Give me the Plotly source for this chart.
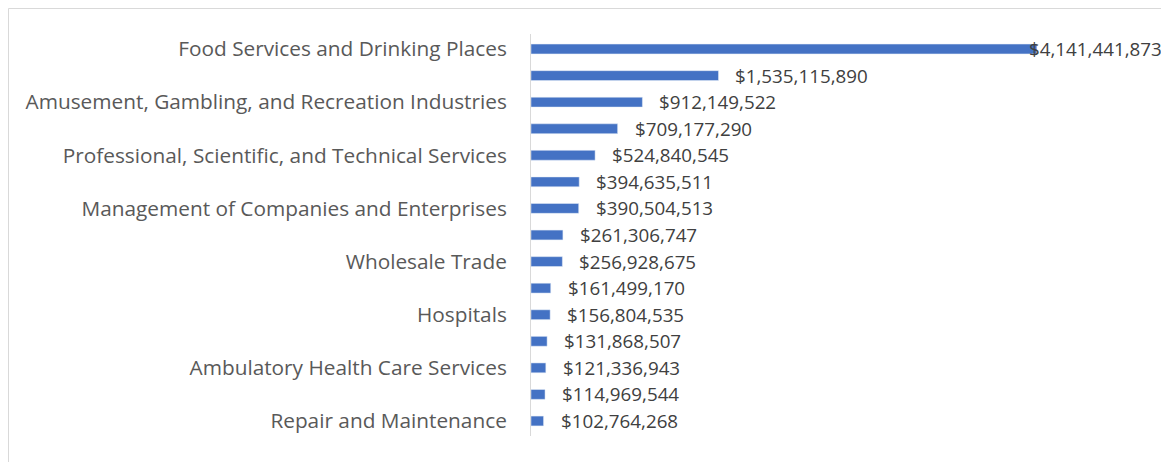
import plotly.graph_objects as go

# Industries, largest first (only every other one gets a visible axis label)
industries = [
    "Food Services and Drinking Places",
    "Accommodation",
    "Amusement, Gambling, and Recreation Industries",
    "Administrative and Support Services",
    "Professional, Scientific, and Technical Services",
    "Real Estate",
    "Management of Companies and Enterprises",
    "Specialty Trade Contractors",
    "Wholesale Trade",
    "Personal and Laundry Services",
    "Hospitals",
    "Food and Beverage Stores",
    "Ambulatory Health Care Services",
    "General Merchandise Stores",
    "Repair and Maintenance",
]
spending = [
    4141441873, 1535115890, 912149522, 709177290, 524840545,
    394635511, 390504513, 261306747, 256928675, 161499170,
    156804535, 131868507, 121336943, 114969544, 102764268,
]
shown_labels = industries[::2]

FONT = "Open Sans"

fig = go.Figure()

fig.add_trace(go.Bar(
    x=spending,
    y=industries,
    orientation="h",
    marker_color="#4472C4",
    hovertemplate="%{y}: $%{x:,.0f}<extra></extra>",
))

# value labels next to the bar ends (the biggest one gets pulled back like Excel does)
for i, (cat, val) in enumerate(zip(industries, spending)):
    fig.add_annotation(
        x=val,
        y=cat,
        xref="x",
        yref="y",
        text="${:,.0f}".format(val),
        showarrow=False,
        xanchor="left",
        xshift=-10 if i == 0 else 15,
        font={"family": FONT, "size": 18.8, "color": "#404040"},
    )

fig.update_layout(
    width=1161,
    height=454,
    margin={"l": 523, "r": 9, "t": 26, "b": 26},
    paper_bgcolor="white",
    plot_bgcolor="white",
    showlegend=False,
    bargap=0.63,
    font={"family": FONT, "color": "#595959"},
    xaxis={
        "range": [0, 5.15e9],
        "visible": False,
        "showgrid": False,
        "zeroline": False,
    },
    yaxis={
        "autorange": "reversed",
        "tickmode": "array",
        "tickvals": shown_labels,
        "ticktext": shown_labels,
        "tickfont": {"family": FONT, "size": 20.8, "color": "#595959"},
        "ticks": "",
        "ticklabelstandoff": 19,
        "showline": True,
        "linecolor": "#d9d9d9",
        "linewidth": 1,
        "showgrid": False,
        "automargin": False,
    },
    shapes=[{
        "type": "rect",
        "xref": "paper",
        "yref": "paper",
        "x0": -523 / 629 + 0.5 / 629,
        "x1": 1.05,
        "y0": -0.2,
        "y1": 1 + 25.5 / 402,
        "line": {"color": "#d9d9d9", "width": 1},
        "fillcolor": "rgba(0,0,0,0)",
        "layer": "below",
    }],
)

fig.write_html("out.html")
